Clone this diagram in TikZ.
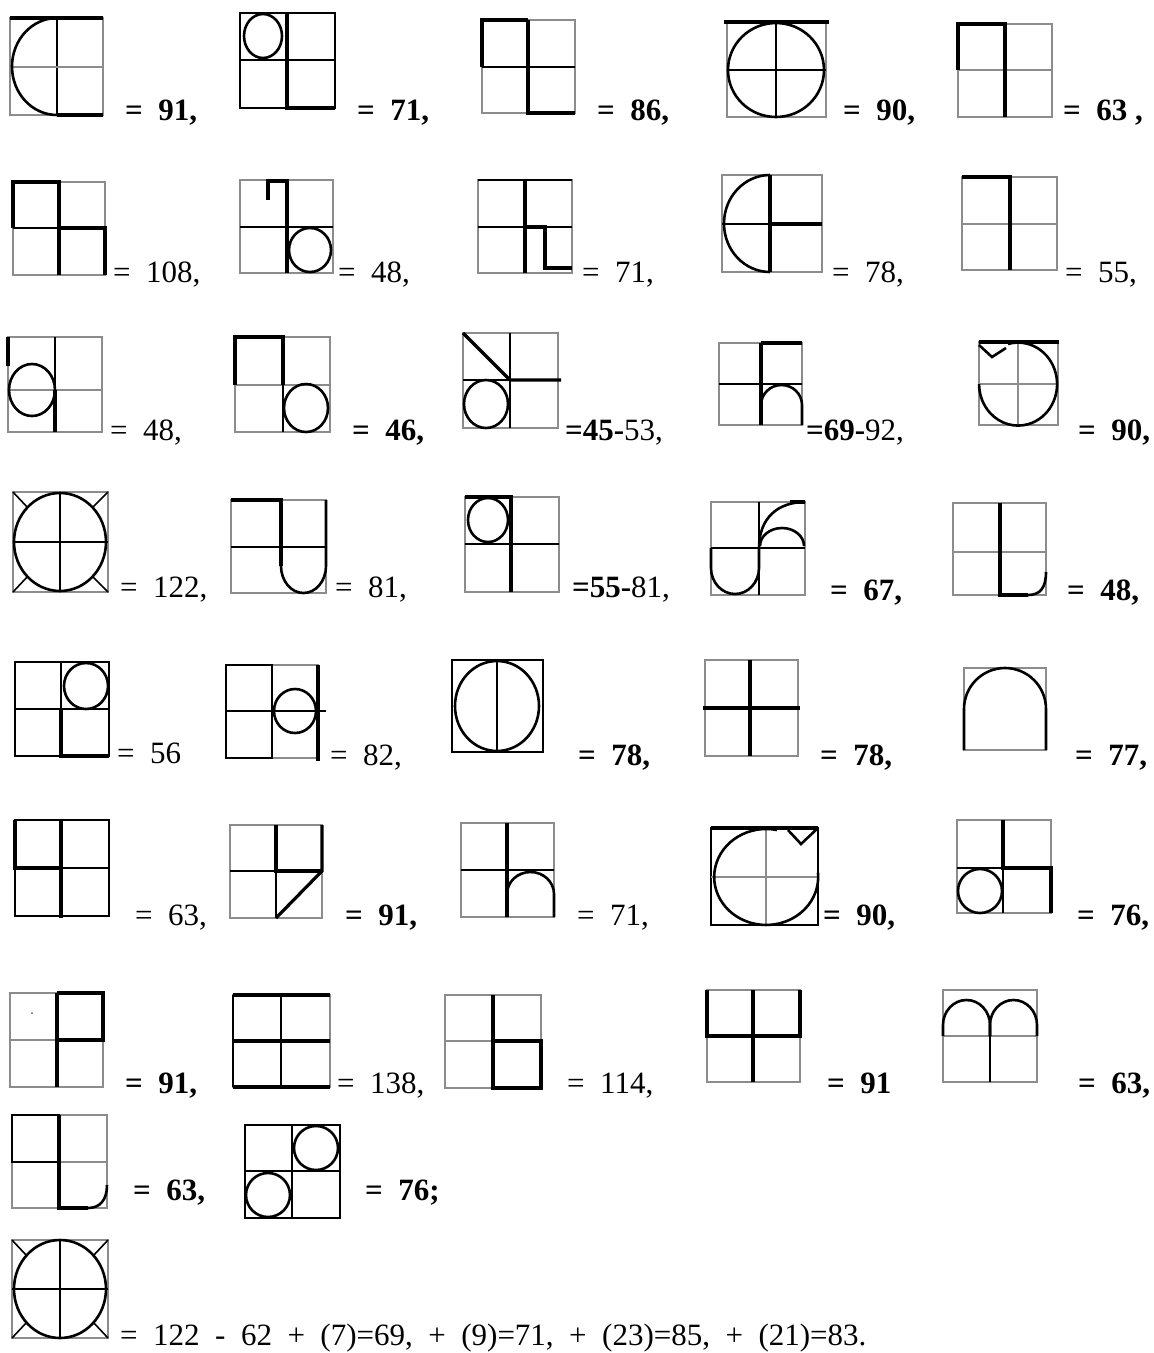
\documentclass[tikz,border=0pt]{standalone}
\usepackage{fontspec}
\setmainfont{Liberation Serif}
\begin{document}
\begin{tikzpicture}[x=1pt,y=-1pt,
  gl/.style={draw=black!45, line width=1.4pt},
  bl/.style={draw=black, line width=1.1pt},
  tk/.style={draw=black, line width=3.2pt},
  cv/.style={draw=black, line width=2.6pt},
  every node/.style={anchor=base west, inner sep=0pt, font=\fontsize{31}{33}\selectfont}]
\fill[white] (0,0) rectangle (1154,1353);
\useasboundingbox (0,0) rectangle (1154,1353);
% ---------- Row 1
\draw[gl] (10,18) rectangle (103,115);
\draw[bl] (57,18)--(57,115);
\draw[gl] (10,67)--(103,67);
\draw[tk] (10,18)--(103,18);
\draw[tk] (57,115)--(103,115);
\draw[cv] (57,18) arc[start angle=270,end angle=90,x radius=45,y radius=48.5];
\node (t1a) at (125,120) {\bfseries =\ \ 91,};
\draw[bl] (240,13) rectangle (335,108);
\draw[bl] (240,60)--(335,60);
\draw[cv] (263,36) ellipse[x radius=19,y radius=22];
\draw[tk] (287,13)--(287,108)--(335,108);
\node (t1b) at (357,120) {\bfseries =\ \ 71,};
\draw[gl] (482,20) rectangle (575,113);
\draw[bl] (482,67)--(575,67);
\draw[tk] (482,67)--(482,20)--(528,20);
\draw[tk] (528,20)--(528,113)--(575,113);
\node (t1c) at (597,120) {\bfseries =\ \ 86,};
\draw[gl] (727,22) rectangle (826,117);
\draw[bl] (776,22)--(776,117) (727,70)--(826,70);
\draw[cv] (776,70) ellipse[x radius=48,y radius=47];
\draw[tk] (724,22)--(829,22);
\node (t1d) at (843,120) {\bfseries =\ \ 90,};
\draw[gl] (958,24) rectangle (1052,117);
\draw[gl] (958,70)--(1052,70);
\draw[tk] (958,70)--(958,24)--(1005,24)--(1005,117);
\node (t1e) at (1063,120) {\bfseries =\ \ 63\ ,};
% ---------- Row 2
\draw[gl] (13,182) rectangle (105,275);
\draw[bl] (13,228)--(59,228);
\draw[tk] (13,228)--(13,182)--(59,182)--(59,275);
\draw[tk] (59,228)--(105,228)--(105,275);
\node (t2a) at (113,282) {=\ \ 108,};
\draw[gl] (240,180) rectangle (333,273);
\draw[bl] (240,227)--(333,227);
\draw[tk] (268,200)--(268,181)--(287,181)--(287,273);
\draw[cv] (310,250) ellipse[x radius=21,y radius=22];
\node (t2b) at (338,282) {=\ \ 48,};
\draw[gl] (478,180) rectangle (572,273);
\draw[bl] (478,227)--(572,227) (478,180)--(572,180);
\draw[tk] (525,180)--(525,273);
\draw[tk] (525,227)--(545,227)--(545,268)--(572,268);
\node (t2c) at (582,282) {=\ \ 71,};
\draw[gl] (722,175) rectangle (822,272);
\draw[bl] (722,224)--(770,224);
\draw[tk] (770,175)--(770,272) (770,224)--(822,224);
\draw[cv] (770,175) arc[start angle=270,end angle=90,x radius=46,y radius=48.5];
\node (t2d) at (832,282) {=\ \ 78,};
\draw[gl] (962,177) rectangle (1057,270);
\draw[gl] (962,224)--(1057,224);
\draw[tk] (962,177)--(1010,177)--(1010,270);
\node (t2e) at (1065,282) {=\ \ 55,};
% ---------- Row 3
\draw[gl] (8,337) rectangle (102,432);
\draw[gl] (8,390)--(102,390);
\draw[bl] (55,337)--(55,390);
\draw[tk] (8,337)--(8,366);
\draw[cv] (32,390) ellipse[x radius=23,y radius=26];
\draw[tk] (55,390)--(55,432);
\node (t3a) at (110,440) {=\ \ 48,};
\draw[gl] (235,337) rectangle (330,432);
\draw[gl] (235,385)--(330,385);
\draw[bl] (283,385)--(283,432);
\draw[tk] (235,385)--(235,337)--(283,337)--(283,385);
\draw[cv] (306,408) ellipse[x radius=22,y radius=24];
\node (t3b) at (352,440) {\bfseries =\ \ 46,};
\draw[gl] (463,333) rectangle (558,428);
\draw[bl] (510,333)--(510,428) (463,380)--(510,380);
\draw[tk] (463,333)--(510,380)--(561,380);
\draw[cv] (486,404) ellipse[x radius=22,y radius=24];
\node (t3c) at (565,440) {{\bfseries =45-}53,};
\draw[gl] (719,343) rectangle (802,425);
\draw[bl] (719,384)--(802,384);
\draw[tk] (761,343)--(802,343) (761,343)--(761,425);
\draw[cv] (761,425)--(761,405) arc[start angle=180,end angle=360,x radius=20.5,y radius=20]--(802,425);
\node (t3d) at (806,440) {{\bfseries =69-}92,};
\draw[gl] (979,342) rectangle (1058,425);
\draw[gl] (1018,342)--(1018,425) (979,384)--(1058,384);
\draw[tk] (979,342)--(1059,342);
\draw[cv] (979,345)--(992,357)--(1006,348);
\draw[cv] (1008,344) arc[start angle=255,end angle=540,x radius=39,y radius=41.5];
\node (t3e) at (1078,440) {\bfseries =\ \ 90,};
% ---------- Row 4
\draw[gl] (13,492) rectangle (108,592);
\draw[bl] (60,492)--(60,592) (13,542)--(108,542);
\draw[cv] (60,542) ellipse[x radius=46,y radius=49];
\draw[bl, line width=1.6pt] (13,492)--(28,508) (108,492)--(92,508) (13,592)--(28,576) (108,592)--(92,576);
\node (t4a) at (120,597) {=\ \ 122,};
\draw[gl] (231,500) rectangle (326,593);
\draw[bl] (231,547)--(326,547);
\draw[tk] (231,500)--(281,500)--(281,566);
\draw[cv] (281,566) arc[start angle=180,end angle=0,x radius=22.5,y radius=27] -- (326,500);
\node (t4b) at (335,597) {=\ \ 81,};
\draw[gl] (465,497) rectangle (559,592);
\draw[bl] (465,544)--(559,544);
\draw[tk] (465,497)--(511,497)--(511,592);
\draw[cv] (488,520) ellipse[x radius=20,y radius=22];
\node (t4c) at (572,597) {{\bfseries =55-}81,};
\draw[gl] (711,502) rectangle (805,595);
\draw[bl] (759,502)--(759,595) (711,548)--(805,548);
\draw[cv] (711,548)--(711,568) arc[start angle=180,end angle=0,x radius=24,y radius=26]--(759,548);
\draw[cv] (759,548) .. controls (759,518) and (778,502) .. (805,502);
\draw[tk] (790,502)--(805,502);
\draw[cv] (760,546) arc[start angle=180,end angle=360,x radius=22,y radius=18];
\node (t4d) at (830,600) {\bfseries =\ \ 67,};
\draw[gl] (953,503) rectangle (1046,595);
\draw[gl] (953,552)--(1046,552);
\draw[tk] (1000,503)--(1000,595)--(1028,595);
\draw[cv] (1028,595) .. controls (1040,595) and (1046,588) .. (1046,572);
\node (t4e) at (1067,600) {\bfseries =\ \ 48,};
% ---------- Row 5
\draw[bl] (15,662) rectangle (109,756);
\draw[bl] (61,662)--(61,756) (15,709)--(109,709);
\draw[cv] (86,686) ellipse[x radius=22,y radius=23];
\draw[tk] (61,709)--(61,756)--(109,756);
\node (t5a) at (117,763) {=\ \ 56};
\draw[gl] (226,665) rectangle (318,758);
\draw[bl] (226,665) rectangle (272,758);
\draw[bl] (226,711)--(326,711);
\draw[cv] (295,711) ellipse[x radius=21,y radius=22];
\draw[tk] (318,665)--(318,761);
\node (t5b) at (330,765) {=\ \ 82,};
\draw[bl] (452,660) rectangle (543,752);
\draw[bl] (497,660)--(497,752);
\draw[cv] (497,706) ellipse[x radius=42,y radius=45];
\node (t5c) at (578,765) {\bfseries =\ \ 78,};
\draw[gl] (705,660) rectangle (798,756);
\draw[tk] (750,660)--(750,756) (703,708)--(800,708);
\node (t5d) at (820,765) {\bfseries =\ \ 78,};
\draw[gl] (964,668) rectangle (1046,750);
\draw[cv] (964,750)--(964,709) arc[start angle=180,end angle=360,x radius=41,y radius=41]--(1046,750);
\node (t5e) at (1075,765) {\bfseries =\ \ 77,};
% ---------- Row 6
\draw[bl] (15,820) rectangle (109,916);
\draw[bl] (61,820)--(61,916) (15,868)--(109,868);
\draw[line width=4pt] (15,820)--(15,868)--(61,868) (61,819)--(61,918);
\node (t6a) at (135,925) {=\ \ 63,};
\draw[gl] (230,825) rectangle (322,918);
\draw[bl] (276,871)--(276,918) (230,871)--(276,871);
\draw[tk] (276,825)--(276,871)--(322,871);
\draw[tk] (322,825)--(322,871)--(276,918);
\node (t6b) at (345,925) {\bfseries =\ \ 91,};
\draw[gl] (461,823) rectangle (554,917);
\draw[bl] (461,870)--(554,870);
\draw[tk] (507,823)--(507,917);
\draw[cv] (507,917)--(507,894) arc[start angle=180,end angle=360,x radius=23.5,y radius=22]--(554,917);
\node (t6c) at (577,925) {=\ \ 71,};
\draw[bl] (711,828) rectangle (818,925);
\draw[gl] (766,828)--(766,925) (711,877)--(818,877);
\draw[tk] (711,828)--(818,828);
\draw[cv] (788,830)--(801,844)--(818,828);
\draw[cv] (777,830) arc[start angle=282,end angle=-5,x radius=52,y radius=48];
\node (t6d) at (823,925) {\bfseries =\ \ 90,};
\draw[gl] (957,820) rectangle (1051,913);
\draw[bl] (1003,868)--(1003,913) (957,868)--(1003,868);
\draw[tk] (1003,820)--(1003,868)--(1051,868)--(1051,913);
\draw[cv] (980,891) ellipse[x radius=22,y radius=22];
\node (t6e) at (1077,925) {\bfseries =\ \ 76,};
% ---------- Row 7
\draw[gl] (10,993) rectangle (103,1087);
\draw[gl] (10,1040)--(57,1040);
\draw[tk] (57,993)--(57,1087);
\draw[tk] (57,993)--(103,993)--(103,1040)--(57,1040);
\fill[black!60] (32,1013) circle[radius=1];
\node (t7a) at (125,1093) {\bfseries =\ \ 91,};
\draw[gl] (233,995) rectangle (330,1087);
\draw[bl] (281,995)--(281,1087) (233,995)--(233,1087);
\draw[tk] (233,995)--(330,995) (233,1041)--(330,1041) (233,1087)--(330,1087);
\node (t7b) at (337,1093) {=\ \ 138,};
\draw[gl] (445,995) rectangle (541,1088);
\draw[gl] (445,1041)--(493,1041);
\draw[tk] (493,995)--(493,1088)--(541,1088)--(541,1041)--(493,1041);
\node (t7c) at (567,1093) {=\ \ 114,};
\draw[gl] (707,990) rectangle (800,1082);
\draw[tk] (707,990)--(707,1036)--(800,1036)--(800,990);
\draw[tk] (753,990)--(753,1082);
\node (t7d) at (827,1093) {\bfseries =\ \ 91};
\draw[gl] (943,990) rectangle (1037,1082);
\draw[gl] (943,1036)--(1037,1036);
\draw[bl] (990,1036)--(990,1082);
\draw[cv] (943,1036)--(943,1025) arc[start angle=180,end angle=360,x radius=23.5,y radius=25]--(990,1036);
\draw[cv] (990,1036)--(990,1025) arc[start angle=180,end angle=360,x radius=23.5,y radius=25]--(1037,1036);
\node (t7e) at (1078,1093) {\bfseries =\ \ 63,};
% ---------- Row 8
\draw[gl] (12,1115) rectangle (107,1208);
\draw[bl] (12,1115) rectangle (59,1162);
\draw[gl] (59,1162)--(107,1162);
\draw[tk] (59,1115)--(59,1208)--(88,1208);
\draw[cv] (88,1208) .. controls (100,1208) and (107,1200) .. (107,1185);
\node (t8a) at (133,1200) {\bfseries =\ \ 63,};
\draw[bl] (245,1125) rectangle (340,1218);
\draw[bl] (292,1125)--(292,1218) (245,1171)--(340,1171);
\draw[cv] (316,1148) ellipse[x radius=22,y radius=22];
\draw[cv] (268,1195) ellipse[x radius=22,y radius=22];
\node (t8b) at (365,1200) {\bfseries =\ \ 76;};
% ---------- Row 9
\draw[gl] (12,1240) rectangle (108,1338);
\draw[bl] (60,1240)--(60,1338) (12,1289)--(108,1289);
\draw[cv] (60,1289) ellipse[x radius=46,y radius=49];
\draw[bl, line width=1.6pt] (12,1240)--(27,1256) (108,1240)--(93,1256) (12,1338)--(27,1322) (108,1338)--(93,1322);
\node (t9) at (120,1345) {=\ \ 122\ \ -\ \ 62\ \ +\ \ (7)=69,\ \ +\ \ (9)=71,\ \ +\ \ (23)=85,\ \ +\ \ (21)=83.};
\end{tikzpicture}
\end{document}
